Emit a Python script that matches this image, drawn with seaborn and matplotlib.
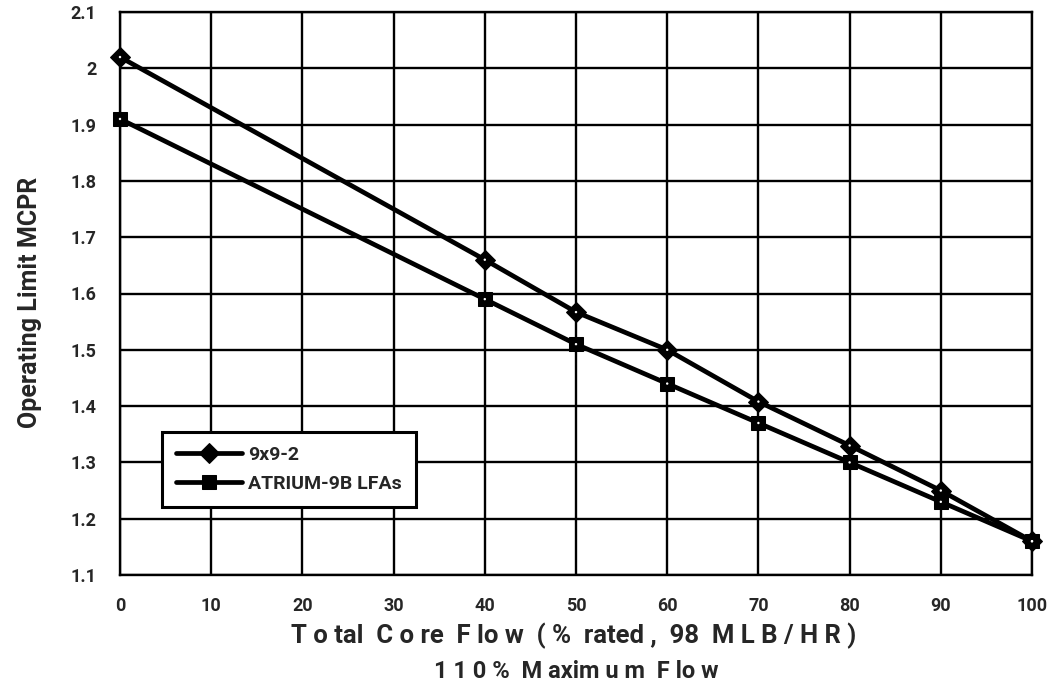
import matplotlib
matplotlib.use("Agg")
import matplotlib.pyplot as plt
import seaborn as sns
import pandas as pd

flow = [0, 40, 50, 60, 70, 80, 90, 100]
mcpr_9x9 = [2.02, 1.66, 1.567, 1.50, 1.408, 1.33, 1.25, 1.16]
mcpr_atrium = [1.91, 1.59, 1.51, 1.44, 1.37, 1.30, 1.23, 1.16]
series_names = ["9x9-2", "ATRIUM-9B LFAs"]
xticks = list(range(0, 101, 10))
yticks = [1.1, 1.2, 1.3, 1.4, 1.5, 1.6, 1.7, 1.8, 1.9, 2.0, 2.1]
ytick_labels = ["1.1", "1.2", "1.3", "1.4", "1.5", "1.6", "1.7", "1.8", "1.9", "2", "2.1"]

sns.set_theme(style="white")
plt.rcParams["font.family"] = ["Roboto", "DejaVu Sans"]

df = pd.DataFrame({
    "flow": flow * 2,
    "mcpr": mcpr_9x9 + mcpr_atrium,
    "series": [series_names[0]] * len(flow) + [series_names[1]] * len(flow),
})

fig = plt.figure(figsize=(10.55, 6.97), dpi=100)
ax = fig.add_axes([120 / 1055, 1 - 575 / 697, 912 / 1055, 563 / 697])

sns.lineplot(data=df, x="flow", y="mcpr", hue="series", style="series",
             palette=["black", "black"], markers={series_names[0]: "D", series_names[1]: "s"},
             dashes=False, linewidth=3.4, markersize=10, markeredgecolor="black",
             markerfacecolor="black", ax=ax, zorder=5, clip_on=False)
# white center dots on markers
ax.scatter(df["flow"], df["mcpr"], s=3, color="white", zorder=6, clip_on=False, edgecolors="none")

ax.set_xlim(0, 100)
ax.set_ylim(1.1, 2.1)
ax.set_xticks(xticks)
ax.set_yticks(yticks)
ax.set_yticklabels(ytick_labels)
ax.grid(True, color="black", linewidth=1.7)
ax.set_axisbelow(True)
for s in ax.spines.values():
    s.set_color("black")
    s.set_linewidth(1.7)
ax.tick_params(axis="x", which="both", direction="out", length=7, width=1.7, color="black",
               labelsize=13, pad=9)
ax.tick_params(axis="y", which="both", direction="out", length=7, width=1.7, color="black",
               labelsize=13, pad=10)
for lab in ax.get_xticklabels() + ax.get_yticklabels():
    lab.set_fontweight("bold")

ax.set_xlabel("")
ax.set_ylabel("")
fig.text(30 / 1055, 1 - 302 / 697, "Operating Limit MCPR", rotation=90,
         ha="center", va="center", fontsize=18, fontweight="bold")
fig.text(574 / 1055, 1 - 636 / 697, "T o tal  C o re  F lo w  ( %  rated ,  98  M L B / H R )",
         ha="center", va="center", fontsize=18.5, fontweight="bold")
fig.text(576 / 1055, 1 - 672 / 697, "1 1 0 %  M axim u m  F lo w",
         ha="center", va="center", fontsize=17, fontweight="bold")

leg = ax.legend(loc="upper left", bbox_to_anchor=(0.046, 0.254), borderaxespad=0,
                frameon=True, fancybox=False, edgecolor="black", framealpha=1,
                handlelength=3.4, handletextpad=0.35, borderpad=0.7,
                labelspacing=0.6, prop={"weight": "bold", "size": 14})
leg.get_frame().set_linewidth(2.2)
leg.set_zorder(10)

fig.savefig("out.png", dpi=100, facecolor="white")
